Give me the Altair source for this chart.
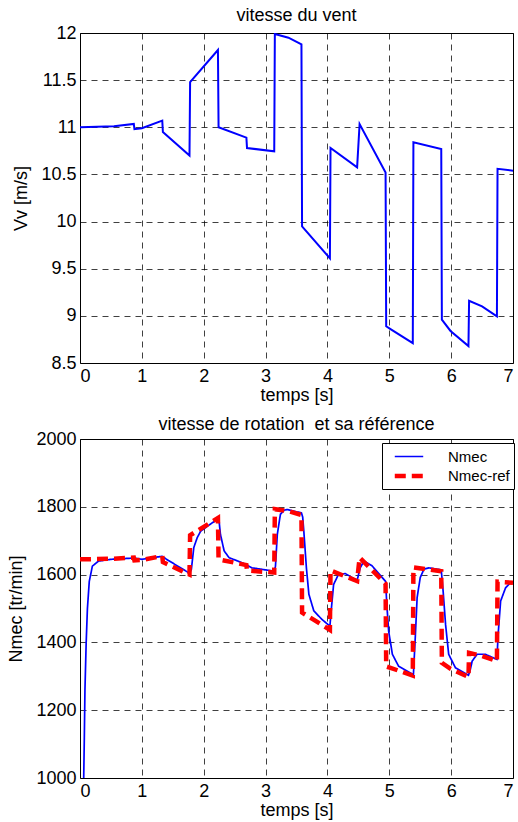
import altair as alt
import pandas as pd

# ---- data ----
t_vent = [0, 0.55, 0.87, 0.88, 1.0, 1.33, 1.34, 1.77, 1.78, 2.23, 2.24, 2.69, 2.70,
          3.14, 3.15, 3.37, 3.58, 3.59, 4.04, 4.05, 4.48, 4.52, 4.94, 4.95, 5.02,
          5.38, 5.39, 5.84, 5.85, 5.99, 6.28, 6.29, 6.50, 6.74, 6.75, 7.0]
v_vent = [11.0, 11.01, 11.035, 10.98, 10.99, 11.07, 10.95, 10.70, 11.48, 11.82, 11.0,
          10.89, 10.78, 10.745, 11.99, 11.95, 11.88, 9.95, 9.61, 10.78, 10.575, 11.035,
          10.52, 8.89, 8.86, 8.71, 10.84, 10.77, 8.96, 8.84, 8.68, 9.16, 9.10, 8.995,
          10.56, 10.54]

t_ref = t_vent
n_ref = [1645, 1647, 1650, 1642, 1643, 1655, 1637, 1600, 1716, 1767, 1645, 1628, 1612,
         1606, 1793, 1787, 1776, 1488, 1437, 1612, 1581, 1650, 1573, 1329, 1325, 1302,
         1621, 1610, 1340, 1322, 1298, 1369, 1360, 1345, 1579, 1576]

t_mec = [0.06, 0.07, 0.08, 0.10, 0.12, 0.15, 0.20, 0.30, 0.50, 0.88, 1.0, 1.33, 1.40,
         1.77, 1.80, 1.84, 1.895, 1.95, 2.1, 2.23, 2.25, 2.27, 2.33, 2.41, 2.62, 2.78,
         3.14, 3.16, 3.19, 3.24, 3.30, 3.35, 3.58, 3.60, 3.62, 3.66, 3.70, 3.78, 3.91,
         4.04, 4.07, 4.10, 4.18, 4.29, 4.48, 4.53, 4.59, 4.72, 4.94, 4.96, 4.99, 5.05,
         5.15, 5.39, 5.42, 5.45, 5.50, 5.56, 5.64, 5.84, 5.87, 5.91, 5.96, 6.07, 6.28,
         6.31, 6.34, 6.42, 6.55, 6.74, 6.76, 6.80, 6.88, 6.96, 7.0]
n_mec = [1000, 1120, 1260, 1400, 1500, 1580, 1625, 1640, 1645, 1649, 1645, 1654, 1645,
         1604, 1615, 1680, 1709, 1728, 1748, 1764, 1755, 1719, 1670, 1650, 1635, 1620,
         1610, 1625, 1719, 1778, 1790, 1792, 1782, 1770, 1724, 1620, 1542, 1493, 1468,
         1448, 1512, 1571, 1601, 1603, 1583, 1620, 1640, 1626, 1580, 1512, 1433, 1365,
         1330, 1305, 1414, 1532, 1591, 1616, 1620, 1614, 1552, 1453, 1365, 1325, 1303,
         1320, 1345, 1365, 1365, 1350, 1424, 1522, 1561, 1576, 1578]

x_ticks = [0, 1, 2, 3, 4, 5, 6, 7]
v_ticks = [8.5, 9, 9.5, 10, 10.5, 11, 11.5, 12]
n_ticks = [1000, 1200, 1400, 1600, 1800, 2000]
series = ["Nmec", "Nmec-ref"]

FONT = "Liberation Sans"

top_df = pd.DataFrame({"t": t_vent, "v": v_vent})
bot_df = pd.concat([
    pd.DataFrame({"t": t_mec, "N": n_mec, "serie": series[0]}),
    pd.DataFrame({"t": t_ref, "N": n_ref, "serie": series[1]}),
], ignore_index=True)

x_enc = alt.X("t:Q", scale=alt.Scale(domain=[0, 7], nice=False),
              axis=alt.Axis(values=x_ticks, title="temps [s]", format="d"))

top = alt.Chart(top_df).mark_line(color="#0000ff", strokeWidth=2, clip=True).encode(
    x=x_enc,
    y=alt.Y("v:Q", scale=alt.Scale(domain=[8.5, 12], nice=False, zero=False),
            axis=alt.Axis(values=v_ticks, format=".1~f", title="Vv [m/s]")),
).properties(width=433, height=330,
             title=alt.TitleParams("vitesse du vent", offset=-1))

leg = alt.Legend(title=None, labelExpr="datum.label + '\u00a0'")
bottom = alt.Chart(bot_df).mark_line(clip=True).encode(
    x=x_enc,
    y=alt.Y("N:Q", scale=alt.Scale(domain=[1000, 2000], nice=False, zero=False),
            axis=alt.Axis(values=n_ticks, format="d", title="Nmec [tr/min]")),
    color=alt.Color("serie:N", scale=alt.Scale(domain=series, range=["#0000ff", "#ff0000"]),
                    legend=leg),
    strokeDash=alt.StrokeDash("serie:N", scale=alt.Scale(domain=series, range=[[1, 0], [11, 6]]),
                              legend=leg),
    strokeWidth=alt.StrokeWidth("serie:N", scale=alt.Scale(domain=series, range=[1.7, 4.5]),
                                legend=leg),
).properties(width=433, height=339,
             title=alt.TitleParams("vitesse de rotation\u00a0 et sa référence", offset=-4))

chart = alt.vconcat(top, bottom, spacing=10).properties(
    padding={"left": 7, "top": 6, "right": 0, "bottom": 0}
).configure(
    font=FONT, background="white"
).configure_view(
    stroke="black", strokeWidth=1
).configure_axis(
    labelFont=FONT, labelFontSize=18, labelColor="black", labelPadding=4,
    titleFont=FONT, titleFontSize=18, titleFontWeight="normal", titleColor="black",
    grid=True, gridColor="#000000", gridOpacity=0.75, gridDash=[6, 5], gridWidth=1,
    domain=False, ticks=False,
).configure_axisY(
    titlePadding=10,
).configure_axisX(
    titlePadding=1,
).configure_title(
    font=FONT, fontSize=18, fontWeight="normal", color="black", anchor="middle",
).configure_legend(
    orient="none", legendX=302, legendY=410,
    strokeColor="black", fillColor="white", padding=4,
    labelFont=FONT, labelFontSize=15, labelColor="black", labelOffset=28,
    symbolType="M-1.7,0L1.7,0", symbolSize=280, symbolOffset=12, rowPadding=0,
)

chart.save("out.html", embed_options={"renderer": "svg", "actions": False})
